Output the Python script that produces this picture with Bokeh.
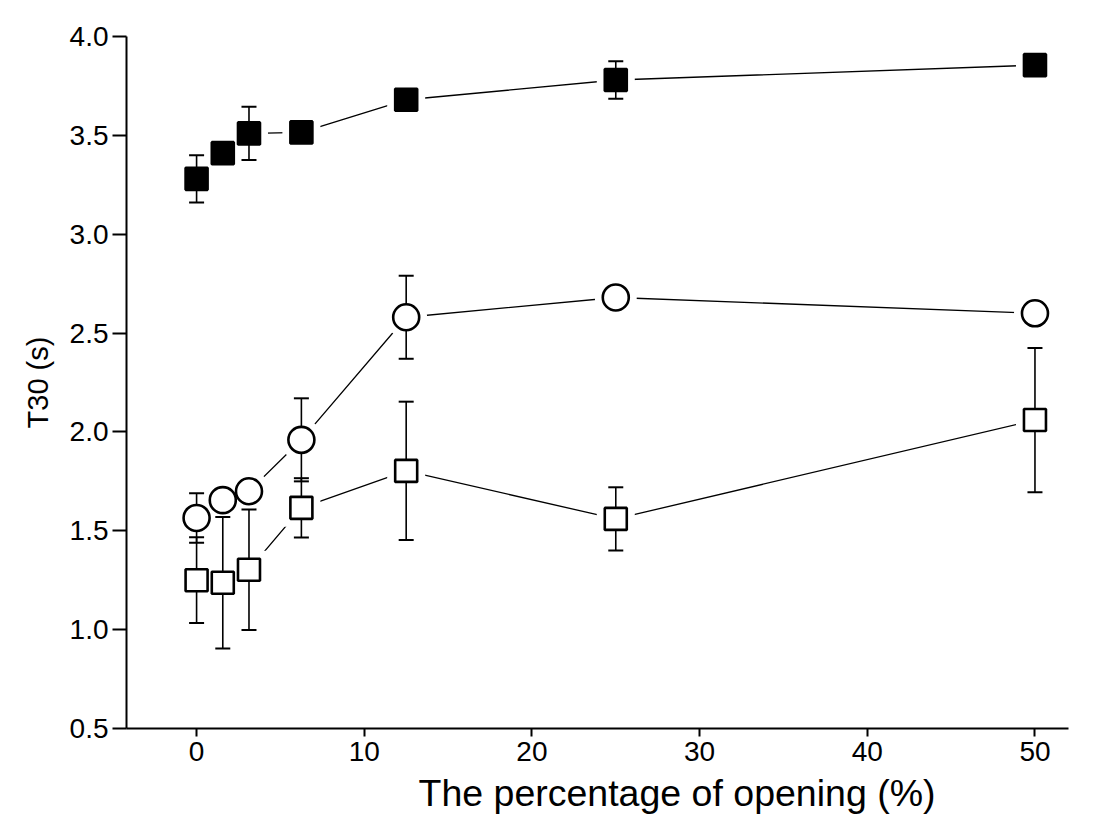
from bokeh.plotting import figure
from bokeh.models import ColumnDataSource, FixedTicker, Range1d, Title, NumeralTickFormatter
from bokeh.embed import file_html
from bokeh.resources import INLINE

# ---- data ----
opening = [0, 1.5625, 3.125, 6.25, 12.5, 25, 50]

filled_sq = [3.28, 3.41, 3.51, 3.515, 3.68, 3.78, 3.855]
filled_sq_err = [0.12, 0.03, 0.135, 0.03, 0.04, 0.095, 0.03]

open_circ = [1.565, 1.655, 1.70, 1.96, 2.58, 2.68, 2.60]
open_circ_err = [0.125, 0.05, 0.04, 0.21, 0.21, 0.03, 0.03]

open_sq = [1.25, 1.237, 1.303, 1.616, 1.803, 1.56, 2.06]
open_sq_err = [0.217, 0.333, 0.305, 0.15, 0.35, 0.16, 0.365]

x_ticks = [0, 10, 20, 30, 40, 50]
y_ticks = [0.5, 1.0, 1.5, 2.0, 2.5, 3.0, 3.5, 4.0]

FONT = "Liberation Sans"

p = figure(width=1097, height=824, output_backend="svg", toolbar_location=None,
           x_range=Range1d(-4.18, 52.0), y_range=Range1d(0.5, 4.0),
           min_border_left=126, min_border_right=29, min_border_top=36,
           min_border_bottom=96)
p.outline_line_color = None
p.grid.visible = False
p.background_fill_color = "white"
p.border_fill_color = "white"

def make_src(y, err):
    return ColumnDataSource(dict(
        x=opening, y=y,
        lo=[a - b for a, b in zip(y, err)],
        hi=[a + b for a, b in zip(y, err)],
    ))

series = [
    (make_src(filled_sq, filled_sq_err), "square", 22, "black"),
    (make_src(open_circ, open_circ_err), "circle", 26, "white"),
    (make_src(open_sq, open_sq_err), "square", 22, "white"),
]

# connecting lines
for src, mk, sz, fill in series:
    p.line("x", "y", source=src, line_color="black", line_width=1.3)

# white halos producing gaps between lines and markers
for src, mk, sz, fill in series:
    p.scatter("x", "y", source=src, marker=mk, size=sz + 16,
              fill_color="white", line_color=None)

# error bars
for src, mk, sz, fill in series:
    p.segment("x", "lo", "x", "hi", source=src, line_color="black", line_width=1.6)
    p.scatter("x", "lo", source=src, marker="dash", size=15,
              line_color="black", line_width=2)
    p.scatter("x", "hi", source=src, marker="dash", size=15,
              line_color="black", line_width=2)

# markers
for src, mk, sz, fill in series:
    p.scatter("x", "y", source=src, marker=mk, size=sz,
              fill_color=fill, line_color="black", line_width=2.6)

# axes
for ax in (p.xaxis[0], p.yaxis[0]):
    ax.axis_line_width = 2
    ax.axis_line_color = "black"
    ax.major_tick_line_width = 2
    ax.major_tick_in = 0
    ax.minor_tick_line_color = None
    ax.major_label_text_font = FONT
    ax.major_label_text_color = "black"
    ax.axis_label_text_font = FONT
    ax.axis_label_text_font_style = "normal"
    ax.axis_label_text_color = "black"

p.xaxis[0].ticker = FixedTicker(ticks=x_ticks)
p.xaxis[0].major_tick_out = 8
p.xaxis[0].major_label_text_font_size = "28px"
p.xaxis[0].major_label_standoff = 5

p.yaxis[0].ticker = FixedTicker(ticks=y_ticks)
p.yaxis[0].formatter = NumeralTickFormatter(format="0.0")
p.yaxis[0].major_tick_out = 14
p.yaxis[0].major_label_text_font_size = "28px"
p.yaxis[0].major_label_standoff = 4
p.yaxis[0].axis_label = "T30 (s)"
p.yaxis[0].axis_label_text_font_size = "29px"
p.yaxis[0].axis_label_standoff = 13

xtitle = Title(text="The percentage of opening (%)", text_font=FONT,
               text_font_size="37.5px", text_font_style="normal",
               text_color="black", align="left", offset=292,
               standoff=13)
p.add_layout(xtitle, "below")

open("out.html", "w").write(file_html(p, INLINE))
